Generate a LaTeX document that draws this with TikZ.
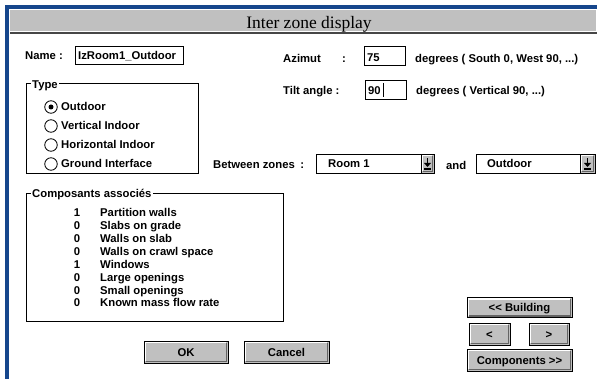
\documentclass[tikz,border=0pt]{standalone}
\usepackage{fontspec}
\setmainfont{Liberation Sans}
\newfontfamily\titlefont{Liberation Serif}
\usetikzlibrary{arrows.meta}
\definecolor{winblue}{RGB}{22,70,140}
\definecolor{wingray}{RGB}{192,192,192}
\definecolor{winshadow}{RGB}{100,100,100}
\tikzset{
  lbl/.style={font=\fontsize{11.3}{13}\selectfont\bfseries, inner sep=0pt, anchor=base west, text=black},
  numlbl/.style={lbl, anchor=base},
  field/.style={draw=black, line width=0.8pt, fill=white, inner sep=0pt},
  grp/.style={draw=black, line width=0.8pt},
  grplbl/.style={lbl, fill=white, inner xsep=1.5pt, inner ysep=1pt},
  radio/.style={circle, draw=black, line width=0.8pt, fill=white, minimum size=12.5pt, inner sep=0pt},
  radiodot/.style={circle, fill=black, minimum size=5pt, inner sep=0pt},
  btn/.style={draw=black, line width=0.8pt, fill=wingray, inner sep=0pt,
    font=\fontsize{11.3}{13}\selectfont\bfseries, text height=8pt, text depth=0pt,
    path picture={
      \draw[white, line width=1.6pt]
        ([xshift=1.6pt,yshift=1.6pt]path picture bounding box.south west) |-
        ([xshift=-1.6pt,yshift=-1.6pt]path picture bounding box.north east);
      \draw[winshadow, line width=1.6pt]
        ([xshift=1.6pt,yshift=1.6pt]path picture bounding box.south west) -|
        ([xshift=-1.6pt,yshift=-1.6pt]path picture bounding box.north east);
    }},
  glyph/.style={line width=1.3pt},
  glyphhead/.style={fill=black},
}
\newcommand{\dropglyph}[1]{%
  \draw[glyph] ([yshift=5pt]#1.center) -- ([yshift=0pt]#1.center);
  \fill[glyphhead] ([xshift=-3.5pt,yshift=0.5pt]#1.center) -- ([xshift=3.5pt,yshift=0.5pt]#1.center) -- ([yshift=-3.5pt]#1.center) -- cycle;
  \draw[glyph] ([xshift=-3.5pt,yshift=-5.5pt]#1.center) -- ([xshift=3.5pt,yshift=-5.5pt]#1.center);
}
\begin{document}
\begin{tikzpicture}[x=1pt,y=-1pt]
\useasboundingbox (0,0) rectangle (597,379);
\fill[white] (0,0) rectangle (597,379);
% window frame
\fill[winblue] (5,5) rectangle (597,9.3);
\fill[winblue] (5,5) rectangle (9.3,379);
% title bar
\fill[wingray] (10,10) rectangle (596,31.5);
\draw[winshadow!70!black, line width=1.6pt] (10,32.8) -- (597,32.8);
\node[font=\titlefont\fontsize{17.5}{20}\selectfont, inner sep=0pt, anchor=base] (title) at (309,29) {Inter zone display};

% Name
\node[lbl] (namelbl) at (25,60) {Name :};
\node[field, minimum width=108pt, minimum height=18pt] (namefield) at (129,55) {};
\node[lbl] (nametext) at (78,60) {IzRoom1\_Outdoor};

% Azimut
\node[lbl] (azlbl) at (283,63) {\makebox[59pt][l]{Azimut}:};
\node[field, minimum width=41pt, minimum height=19pt] (azfield) at (384.5,55.5) {};
\node[lbl] (aztext) at (367,62) {75};
\node[lbl] (azunit) at (415,63) {degrees ( South 0, West 90, ...)};

% Tilt
\node[lbl] (tiltlbl) at (283,95) {Tilt angle :};
\node[field, minimum width=41pt, minimum height=19pt] (tiltfield) at (385.5,89.5) {};
\node[lbl] (tilttext) at (368,95) {90};
\coordinate (curtop) at (383,83);
\coordinate (curbot) at (383,97);
\draw[line width=0.8pt] (curtop) -- (curbot);
\node[lbl] (tiltunit) at (416,95) {degrees ( Vertical 90, ...)};

% Type group
\draw[grp] (26,83) rectangle (198,173);
\node[grplbl] (typelbl) at (30.5,89) {Type};
\node[radio] (r1) at (51,107) {};
\node[radiodot] (r1dot) at (r1) {};
\node[radio] (r2) at (51,126) {};
\node[radio] (r3) at (51,145) {};
\node[radio] (r4) at (51,164) {};
\node[lbl] (r1l) at (61,111) {Outdoor};
\node[lbl] (r2l) at (61,130) {Vertical Indoor};
\node[lbl] (r3l) at (61,149) {Horizontal Indoor};
\node[lbl] (r4l) at (61,168) {Ground Interface};

% Between zones
\node[lbl] (betlbl) at (213,169) {Between zones\enspace:};
\node[field, minimum width=118pt, minimum height=19pt] (zone1) at (375,163.5) {};
\node[lbl] (zone1t) at (328,168) {Room 1};
\node[btn, minimum width=13pt, minimum height=19pt] (zone1b) at (427.5,163.5) {};
\dropglyph{zone1b}
\node[lbl] (andlbl) at (446,170) {and};
\node[field, minimum width=119pt, minimum height=19pt] (zone2) at (535.5,163.5) {};
\node[lbl] (zone2t) at (487,168) {Outdoor};
\node[btn, minimum width=15pt, minimum height=19pt] (zone2b) at (587.5,163.5) {};
\dropglyph{zone2b}

% Composants group
\draw[grp] (26,193) rectangle (283,321);
\node[grplbl] (complbl) at (30.5,198) {Composants associés};
\node[numlbl] (n1) at (77,217) {1};   \node[lbl] (t1) at (100,217) {Partition walls};
\node[numlbl] (n2) at (77,230) {0};   \node[lbl] (t2) at (100,230) {Slabs on grade};
\node[numlbl] (n3) at (77,242.7) {0}; \node[lbl] (t3) at (100,242.7) {Walls on slab};
\node[numlbl] (n4) at (77,255.6) {0}; \node[lbl] (t4) at (100,255.6) {Walls on crawl space};
\node[numlbl] (n5) at (77,268.4) {1}; \node[lbl] (t5) at (100,268.4) {Windows};
\node[numlbl] (n6) at (77,281.3) {0}; \node[lbl] (t6) at (100,281.3) {Large openings};
\node[numlbl] (n7) at (77,294.1) {0}; \node[lbl] (t7) at (100,294.1) {Small openings};
\node[numlbl] (n8) at (77,307) {0};   \node[lbl] (t8) at (100,307) {Known mass flow rate};

% Buttons
\node[btn, minimum width=84pt, minimum height=22pt] (ok) at (186,352) {OK};
\node[btn, minimum width=85pt, minimum height=22pt] (cancel) at (286.5,352) {Cancel};
\node[btn, minimum width=105pt, minimum height=20pt] (building) at (519.5,307.5) {<\kern0pt< Building};
\node[btn, minimum width=41pt, minimum height=22pt] (prev) at (489.5,334) {<};
\node[btn, minimum width=40pt, minimum height=22pt] (next) at (549,334) {>};
\node[btn, minimum width=105pt, minimum height=22pt] (components) at (519.5,360) {Components >\kern0pt>};
\end{tikzpicture}
\end{document}
